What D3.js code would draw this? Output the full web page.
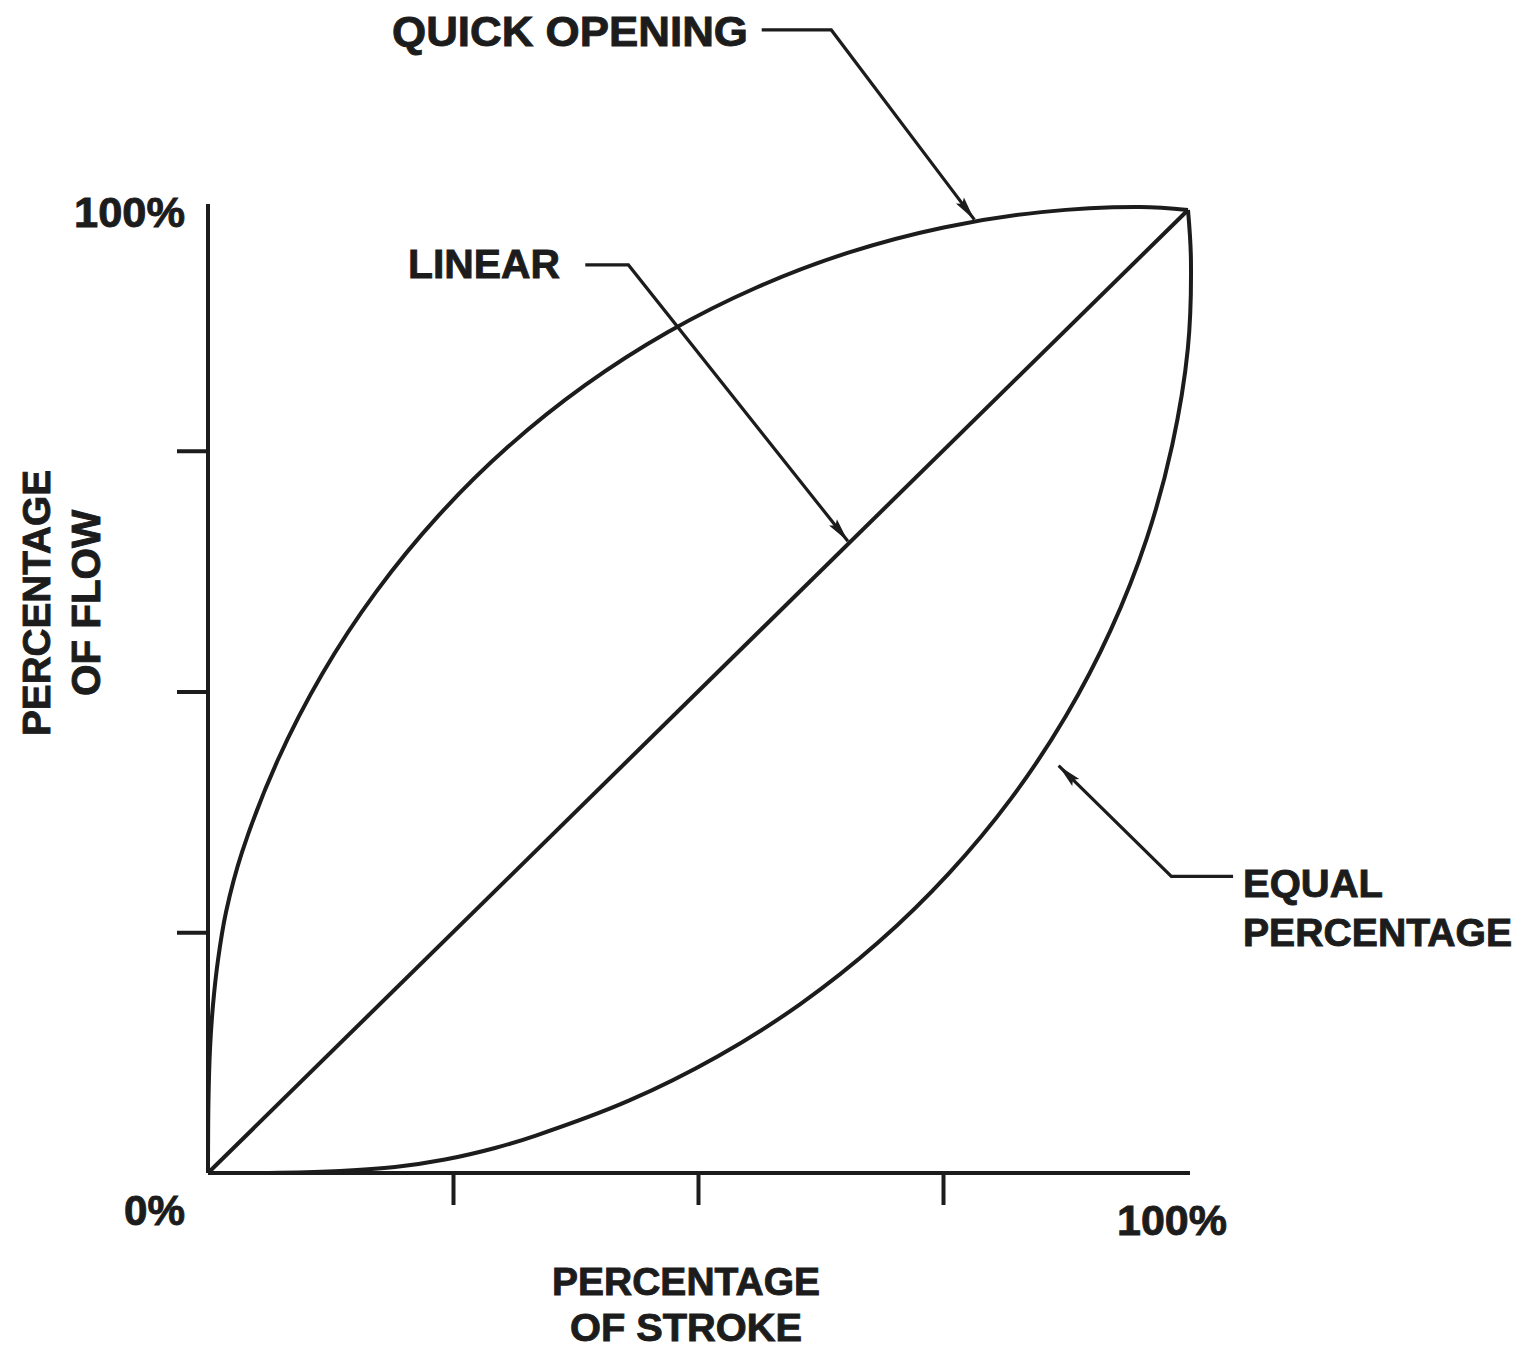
<!DOCTYPE html>
<html>
<head>
<meta charset="utf-8">
<script src="https://cdn.jsdelivr.net/npm/d3@7"></script>
<style>
  body { margin: 0; background: #fff; }
  text { font-family: "Liberation Sans", Arial, sans-serif; font-weight: bold; fill: #1c1c1c; stroke: #1c1c1c; stroke-width: 0.9; }
</style>
</head>
<body>
<div id="chart"></div>
<script>
// valve characteristics, % of stroke vs % of flow
var strokeTicks = [25, 50, 75];
var flowTicks = [25, 50, 75];

var linearX = [0, 100];
var linearY = [0, 100];

var quickX = [0, 0.05, 0.20, 0.51, 1.02, 1.84, 3.49, 7.10, 11.68, 17.17, 23.52, 30.64, 38.48, 46.94, 55.92, 65.34, 75.07, 85.03, 95.10, 100];
var quickY = [0, 7.58, 12.77, 17.45, 22.12, 27.10, 33.36, 42.83, 51.87, 60.37, 68.26, 75.43, 81.81, 87.33, 91.93, 95.57, 98.19, 99.78, 100.31, 100];

var equalX = [0, 7.35, 13.47, 19.08, 24.18, 29.29, 33.46, 42.94, 51.99, 60.51, 68.40, 75.58, 81.98, 87.51, 92.12, 95.77, 98.39, 99.98, 100.3, 100];
var equalY = [0, 0.03, 0.21, 0.62, 1.40, 2.60, 3.89, 7.51, 12.10, 17.59, 23.95, 31.09, 38.93, 47.40, 56.40, 65.83, 75.59, 85.56, 94.8, 100];

// leaders: text end -> elbow -> arrow tip, in chart units
var leaders = [
  {name: "quick",  pts: [[56.5, 118.7], [63.6, 118.7], [78.2, 99.0]]},
  {name: "linear", pts: [[38.5, 94.3], [42.9, 94.3], [65.3, 65.6]]},
  {name: "equal",  pts: [[104.6, 30.8], [98.3, 30.8], [86.8, 42.3]]}
];

var width = 1522, height = 1350;
var ink = "#1c1c1c";

var svg = d3.select("#chart").append("svg")
    .attr("width", width)
    .attr("height", height);

var x = d3.scaleLinear().domain([0, 100]).range([208, 1188]);
var y = d3.scaleLinear().domain([0, 100]).range([1173, 210]);

svg.append("defs").append("marker")
    .attr("id", "arrow")
    .attr("markerUnits", "userSpaceOnUse")
    .attr("viewBox", "-26 -6 28 12")
    .attr("refX", 0).attr("refY", 0)
    .attr("markerWidth", 28).attr("markerHeight", 12)
    .attr("orient", "auto")
    .append("path")
    .attr("d", "M0,0 L-24,-5 L-20,0 L-24,5 Z")
    .attr("fill", ink);

// axes
var yAxis = d3.axisLeft(y).tickValues(flowTicks).tickSize(31).tickSizeOuter(0).tickFormat("");
var xAxis = d3.axisBottom(x).tickValues(strokeTicks).tickSize(32).tickSizeOuter(0).tickFormat("");

var gy = svg.append("g").attr("transform", "translate(" + x(0) + ",0)").call(yAxis);
var gx = svg.append("g").attr("transform", "translate(0," + y(0) + ")").call(xAxis);
[gy, gx].forEach(function(g){
    g.select(".domain").attr("stroke", ink).attr("stroke-width", 4);
    g.selectAll(".tick line").attr("stroke", ink).attr("stroke-width", 4);
});
gy.select(".domain").attr("d", "M0," + (y(100) - 6) + "V" + y(0));
gx.select(".domain").attr("d", "M" + x(0) + ",0H" + (x(100) + 2));

// curves
var line = d3.line()
    .x(function(d){ return x(d[0]); })
    .y(function(d){ return y(d[1]); })
    .curve(d3.curveCatmullRom.alpha(0.5));

var series = [
    d3.zip(linearX, linearY),
    d3.zip(quickX, quickY),
    d3.zip(equalX, equalY)
];

svg.selectAll(".curve")
    .data(series)
    .enter().append("path")
    .attr("class", "curve")
    .attr("d", line)
    .attr("fill", "none")
    .attr("stroke", ink)
    .attr("stroke-width", 4)
    .attr("stroke-linejoin", "round");

var leaderLine = d3.line()
    .x(function(d){ return x(d[0]); })
    .y(function(d){ return y(d[1]); });

svg.selectAll(".leader")
    .data(leaders)
    .enter().append("path")
    .attr("class", "leader")
    .attr("d", function(d){ return leaderLine(d.pts); })
    .attr("fill", "none")
    .attr("stroke", ink)
    .attr("stroke-width", 3.2)
    .attr("marker-end", "url(#arrow)");

// labels
function label(txt, px, py, len, size, rot){
    var t = svg.append("text")
        .attr("x", px).attr("y", py)
        .attr("font-size", size)
        .attr("textLength", len)
        .attr("lengthAdjust", "spacingAndGlyphs")
        .text(txt);
    if (rot) t.attr("transform", "rotate(-90," + px + "," + py + ")");
    return t;
}

label("QUICK OPENING", 392, 46, 356, 42);
label("LINEAR", 408, 278, 152, 41);
label("EQUAL", 1243, 897, 140, 39);
label("PERCENTAGE", 1243, 946, 269, 38.5);

label("100%", 74, 227, 111, 43);
label("0%", 124, 1225, 61, 42);
label("100%", 1117, 1235, 110, 43);

label("PERCENTAGE", 552, 1295, 268, 38.5);
label("OF STROKE", 570, 1341, 232, 39);

label("PERCENTAGE", 50, 736, 266, 38.5, true);
label("OF FLOW", 100, 696, 186, 40, true);
</script>
</body>
</html>
